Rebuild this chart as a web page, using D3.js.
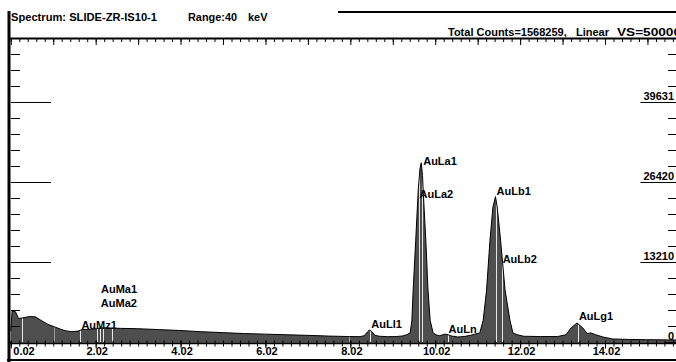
<!DOCTYPE html>
<html><head><meta charset="utf-8">
<script src="https://cdn.jsdelivr.net/npm/d3@7"></script>
<style>html,body{margin:0;padding:0;background:#fff;overflow:hidden}svg{display:block}</style>
</head><body><svg id="c" width="676" height="362"></svg>
<script>
// ---- data ----
const energies = [0.02,0.05,0.13,0.2,0.28,0.38,0.47,0.6,0.75,0.9,1.05,1.18,1.3,1.46,1.6,1.7,1.9,2.05,2.12,2.25,2.4,2.6,3.0,3.5,4.0,4.5,5.0,5.5,6.0,6.5,7.0,7.5,8.0,8.25,8.35,8.42,8.47,8.53,8.6,8.7,8.9,9.1,9.25,9.35,9.43,9.47,9.50,9.56,9.62,9.66,9.69,9.72,9.74,9.80,9.85,9.90,9.97,10.05,10.12,10.18,10.25,10.32,10.4,10.55,10.7,10.85,10.95,11.07,11.15,11.23,11.31,11.38,11.44,11.48,11.56,11.665,11.78,11.85,11.95,12.1,12.5,12.9,13.1,13.22,13.36,13.5,13.6,13.69,13.8,13.97,14.2,14.6,15.0,15.5,15.8];
const counts = [1800,5100,5000,3900,3950,4100,4200,4150,3500,2900,2500,2150,1870,1700,1800,2050,2100,2200,2300,2350,2300,2250,2200,2050,1900,1700,1550,1400,1300,1200,1100,980,900,880,1050,1650,1980,1700,1100,950,880,900,1000,1200,1500,3600,8600,16800,25100,28600,29600,27500,24500,16500,8600,3600,1500,1150,1050,1150,1300,1200,1000,830,900,1100,1300,1500,3600,8600,16800,22300,24000,22300,16800,8600,3600,1500,1200,950,900,900,1200,2300,3150,2300,1400,1500,1200,830,500,420,380,350,330];

const peakNames    = ["AuMz1","AuMa1","AuMa2","AuLl1","AuLa1","AuLa2","AuLn","AuLb1","AuLb2","AuLg1"];
const peakEnergies = [1.66, 2.123, 2.118, 8.49, 9.713, 9.628, 10.31, 11.443, 11.585, 13.382];
const peakLabelLevels = [2150, 8090, 5780, 2310, 29220, 23770, 1490, 24270, 13040, 3630];
const extraMarkers = [0.28, 2.05, 2.204, 2.409];
const greyMarkers  = [1.04, 7.98];

const xLabelValues = [0.02, 2.02, 4.02, 6.02, 8.02, 10.02, 12.02, 14.02];
const yLabelValues = [0, 13210, 26420, 39631];
const yMinorStep = 2642;
const titleText = "Spectrum: SLIDE-ZR-IS10-1";
const rangeText = ["Range:40", "keV"];
const infoText = ["Total Counts=1568259,", "Linear", "VS=50000"];

// ---- drawing ----
const svg = d3.select("#c");
const W = 676;
const x = d3.scaleLinear().domain([0.02, 14.02]).range([10.8, 605]);
const y = d3.scaleLinear().domain([0, 13210]).range([342, 262]);
const data = d3.zip(energies, counts);

// top border
svg.append("line").attr("x1", 338).attr("x2", W).attr("y1", 12).attr("y2", 12)
  .attr("stroke", "#000").attr("stroke-width", 2);
// left border
svg.append("rect").attr("x", 7.5).attr("y", 11).attr("width", 3).attr("height", 351).attr("fill", "#000");
// bottom border
svg.append("line").attr("x1", 7).attr("x2", W).attr("y1", 360).attr("y2", 360)
  .attr("stroke", "#000").attr("stroke-width", 2);

const font = "Liberation Sans, Arial, sans-serif";
// title
svg.append("text").attr("x", 11).attr("y", 21).text(titleText)
  .attr("font-family", font).attr("font-size", 11).attr("font-weight", "bold")
  .attr("textLength", 146).attr("lengthAdjust", "spacingAndGlyphs");
svg.append("text").attr("x", 188).attr("y", 21).text(rangeText[0])
  .attr("font-family", font).attr("font-size", 11).attr("font-weight", "bold")
  .attr("textLength", 49).attr("lengthAdjust", "spacingAndGlyphs");
svg.append("text").attr("x", 248).attr("y", 21).text(rangeText[1])
  .attr("font-family", font).attr("font-size", 11).attr("font-weight", "bold");
// info text
svg.append("text").attr("x", 448).attr("y", 36).text(infoText[0])
  .attr("font-family", font).attr("font-size", 11).attr("font-weight", "bold");
svg.append("text").attr("x", 576).attr("y", 36).text(infoText[1])
  .attr("font-family", font).attr("font-size", 11).attr("font-weight", "bold");
svg.append("text").attr("x", 617).attr("y", 36).text(infoText[2])
  .attr("font-family", font).attr("font-size", 11).attr("font-weight", "bold")
  .attr("textLength", 64).attr("lengthAdjust", "spacingAndGlyphs");

// spectrum
const area = d3.area().x(d => x(d[0])).y0(y(0)).y1(d => y(d[1]));
const line = d3.line().x(d => x(d[0])).y(d => y(d[1]));
svg.append("clipPath").attr("id", "spec").append("path").attr("d", area(data));
svg.append("path").attr("d", area(data)).attr("fill", "#4e4e4e");

const mg = svg.append("g").attr("clip-path", "url(#spec)");
peakEnergies.concat(extraMarkers).forEach(e => {
  mg.append("line").attr("x1", Math.round(x(e)) + 0.5).attr("x2", Math.round(x(e)) + 0.5)
    .attr("y1", y(0)).attr("y2", 40).attr("stroke", "#e6e6e6").attr("stroke-width", 1);
});
greyMarkers.forEach(e => {
  mg.append("line").attr("x1", Math.round(x(e)) + 0.5).attr("x2", Math.round(x(e)) + 0.5)
    .attr("y1", y(0)).attr("y2", 40).attr("stroke", "#9a9a9a").attr("stroke-width", 1);
});
svg.append("path").attr("d", line(data)).attr("fill", "none").attr("stroke", "#000").attr("stroke-width", 1);

// peak labels
peakNames.forEach((n, i) => {
  svg.append("text").attr("x", x(peakEnergies[i]) + 1).attr("y", y(peakLabelLevels[i]))
    .text(n).attr("font-family", font).attr("font-size", 11).attr("font-weight", "bold")
    .attr("fill", "#000");
});

// top axis (ticks downward)
const minorX = d3.range(0, 80).map(k => 0.02 + k * 0.2).filter(v => x(v) <= W + 1);
const unitX = d3.range(0, 17).map(k => 0.02 + k);
const topAxisMinor = d3.axisBottom(x).tickValues(minorX).tickSize(3).tickFormat("");
const topAxisUnit = d3.axisBottom(x).tickValues(unitX).tickSize(6).tickFormat("");
[topAxisMinor, topAxisUnit].forEach(a => {
  const g = svg.append("g").attr("transform", "translate(0,39)").call(a);
  g.select(".domain").remove();
  g.selectAll("line").attr("stroke", "#000");
});
svg.append("line").attr("x1", 9).attr("x2", W).attr("y1", 38.5).attr("y2", 38.5)
  .attr("stroke", "#000").attr("stroke-width", 2);

// bottom axis
svg.append("line").attr("x1", 9).attr("x2", W).attr("y1", 343.2).attr("y2", 343.2)
  .attr("stroke", "#000").attr("stroke-width", 2);
const botMinor = d3.axisBottom(x).tickValues(minorX).tickSize(6).tickFormat("");
const gbm = svg.append("g").attr("transform", "translate(0,340.5)").call(botMinor);
gbm.select(".domain").remove();
gbm.selectAll("line").attr("stroke", "#000");
const botMajor = d3.axisBottom(x).tickValues(xLabelValues).tickSize(8).tickFormat(d => d.toFixed(2));
const gb = svg.append("g").attr("transform", "translate(0,340.5)").call(botMajor);
gb.select(".domain").remove();
gb.selectAll("line").attr("stroke", "#000");
gb.selectAll("text").attr("y", 14.5).attr("dy", 0).attr("fill", "#000")
  .attr("font-family", font).attr("font-size", 11).attr("font-weight", "bold")
  .attr("transform", "translate(1,0)")
  .attr("text-anchor", d => d === xLabelValues[0] ? "start" : "middle");
gb.selectAll("text").filter(d => d === xLabelValues[0]).attr("x", 1);

// left axis
const minorY = d3.range(1, 19).map(k => k * yMinorStep).filter(v => v % 13210 !== 0 && y(v) > 40);
const leftMinor = d3.axisRight(y).tickValues(minorY).tickSize(9).tickFormat("");
const glm = svg.append("g").attr("transform", "translate(11,0)").call(leftMinor);
glm.select(".domain").remove();
glm.selectAll("line").attr("stroke", "#000");
const leftMajor = d3.axisRight(y).tickValues(yLabelValues.slice(1)).tickSize(40).tickFormat("");
const glM = svg.append("g").attr("transform", "translate(11,0)").call(leftMajor);
glM.select(".domain").remove();
glM.selectAll("line").attr("stroke", "#000");

// right axis
const rightMinor = d3.axisLeft(y).tickValues(minorY).tickSize(8).tickFormat("");
const grm = svg.append("g").attr("transform", `translate(${W},0)`).call(rightMinor);
grm.select(".domain").remove();
grm.selectAll("line").attr("stroke", "#000");
const rightMajor = d3.axisLeft(y).tickValues(yLabelValues).tickSize(0).tickPadding(2).tickFormat(d => String(d));
const grM = svg.append("g").attr("transform", `translate(${W},0)`).call(rightMajor);
grM.select(".domain").remove();
grM.selectAll("text").attr("dy", -2.5).attr("fill", "#000")
  .attr("font-family", font).attr("font-size", 11).attr("font-weight", "bold");
grM.selectAll(".tick").each(function() {
  const t = d3.select(this).select("text");
  const w = t.node().getComputedTextLength();
  d3.select(this).select("line").attr("x1", 0).attr("x2", -(w + 5)).attr("y1", 0).attr("y2", 0)
    .attr("stroke", "#000");
});
</script>
</body></html>
